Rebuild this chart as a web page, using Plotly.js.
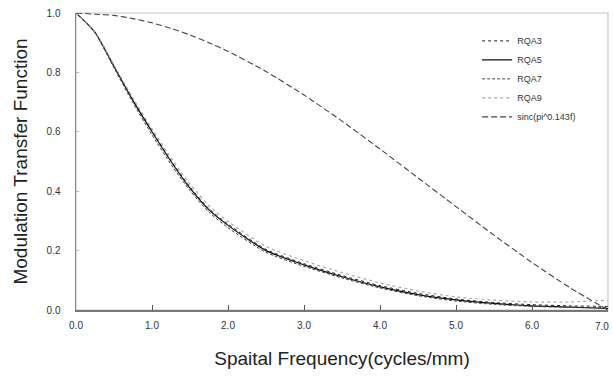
<!DOCTYPE html>
<html>
<head>
<meta charset="utf-8">
<script src="https://cdn.plot.ly/plotly-3.0.1.min.js"></script>
<style>html,body{margin:0;padding:0;background:#fff;}#chart{width:613px;height:380px;}</style>
</head>
<body>
<div id="chart"></div>
<script>
// Spatial frequency (cycles/mm)
const freq = [0, 0.25, 0.5, 0.75, 1.0, 1.25, 1.5, 1.75, 2.0, 2.5, 3.0, 3.5, 4.0, 4.5, 5.0, 5.5, 6.0, 6.5, 7.0];

const rqa3 = [1.0, 0.936, 0.822, 0.708, 0.603, 0.503, 0.414, 0.341, 0.289, 0.204, 0.156, 0.116, 0.082, 0.056, 0.037, 0.025, 0.018, 0.014, 0.012];
const rqa5 = [1.0, 0.935, 0.820, 0.705, 0.600, 0.500, 0.410, 0.337, 0.285, 0.200, 0.152, 0.112, 0.078, 0.052, 0.034, 0.022, 0.014, 0.010, 0.005];
const rqa7 = [1.0, 0.933, 0.815, 0.697, 0.590, 0.490, 0.402, 0.329, 0.277, 0.194, 0.147, 0.108, 0.074, 0.048, 0.030, 0.019, 0.012, 0.009, 0.008];
const rqa9 = [1.0, 0.937, 0.825, 0.713, 0.610, 0.512, 0.424, 0.351, 0.298, 0.214, 0.166, 0.126, 0.091, 0.064, 0.044, 0.033, 0.027, 0.027, 0.033];
const sincVals = [1.0, 0.996, 0.992, 0.981, 0.967, 0.948, 0.926, 0.900, 0.871, 0.803, 0.724, 0.636, 0.542, 0.445, 0.348, 0.252, 0.160, 0.075, 0.0];

const seriesNames = ['RQA3', 'RQA5', 'RQA7', 'RQA9', 'sinc(pi^0.143f)'];
const xTickVals = [0, 1, 2, 3, 4, 5, 6];
const xTickText = ['0.0', '1.0', '2.0', '3.0', '4.0', '5.0', '6.0'];
const lastXTick = {value: 7, text: '7.0'};
const yTickVals = [0, 0.2, 0.4, 0.6, 0.8, 1.0];
const yTickText = ['0.0', '0.2', '0.4', '0.6', '0.8', '1.0'];

const traces = [
  {x: freq, y: rqa3, name: seriesNames[0], mode: 'lines', line: {color: '#222', width: 1, dash: 'dot'}},
  {x: freq, y: rqa5, name: seriesNames[1], mode: 'lines', line: {color: '#111', width: 1.2}},
  {x: freq, y: rqa7, name: seriesNames[2], mode: 'lines', line: {color: '#444', width: 1, dash: '3px,2px'}},
  {x: freq, y: rqa9, name: seriesNames[3], mode: 'lines', line: {color: '#aaa', width: 1.2, dash: 'dot'}},
  {x: freq, y: sincVals, name: seriesNames[4], mode: 'lines', line: {color: '#444', width: 1.1, dash: '6px,3px'}}
].map(t => Object.assign(t, {line: Object.assign({shape: 'spline', smoothing: 0.6}, t.line)}));

const layout = {
  width: 613, height: 380,
  margin: {l: 76, r: 5, t: 13, b: 70},
  paper_bgcolor: '#fff', plot_bgcolor: '#fff',
  font: {family: 'Liberation Sans, Arial, sans-serif', color: '#333'},
  showlegend: true,
  legend: {x: 0.754, y: 0.955, xanchor: 'left', yanchor: 'top', bgcolor: 'rgba(0,0,0,0)',
           font: {size: 9, color: '#333'}, tracegroupgap: 0},
  xaxis: {
    range: [0, 7], tickvals: xTickVals, ticktext: xTickText,
    showgrid: false, zeroline: false, showline: true, linecolor: '#777', linewidth: 1.5,
    ticks: 'inside', ticklen: 5, tickcolor: '#555', tickwidth: 1,
    tickfont: {size: 10, color: '#333'}, ticklabelstandoff: 5,
    title: {text: 'Spaital Frequency(cycles/mm)', font: {size: 19, color: '#222'}, standoff: 22}
  },
  yaxis: {
    range: [0, 1], tickvals: yTickVals, ticktext: yTickText,
    showgrid: false, zeroline: false, showline: true, linecolor: '#888', linewidth: 1.5,
    ticks: 'inside', ticklen: 3, tickcolor: '#bbb', tickwidth: 1,
    tickfont: {size: 10, color: '#333'}, ticklabelstandoff: 12,
    title: {text: 'Modulation Transfer Function', font: {size: 19, color: '#222'}, standoff: 14}
  },
  annotations: [
    {x: lastXTick.value, y: 0, xref: 'x', yref: 'y', text: lastXTick.text, showarrow: false,
     xanchor: 'center', yanchor: 'top', yshift: -9, xshift: -6, font: {size: 10, color: '#333'}}
  ],
  shapes: [
    {type: 'rect', xref: 'paper', yref: 'paper', x0: 0, x1: 1, y0: 0, y1: 1,
     line: {color: '#c8c8c8', width: 1.2}, layer: 'below'}
  ]
};

Plotly.newPlot('chart', traces, layout, {displayModeBar: false, staticPlot: true});
</script>
</body>
</html>
